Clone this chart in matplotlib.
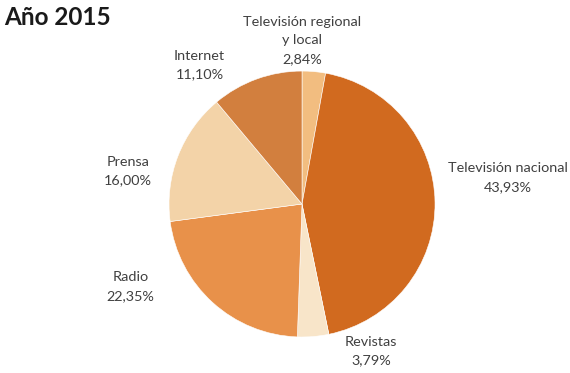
import matplotlib.pyplot as plt

# Data (start at 12 o'clock, clockwise)
categories = ['Televisión regional\ny local', 'Televisión nacional', 'Revistas',
              'Radio', 'Prensa', 'Internet']
shares = [2.84, 43.93, 3.79, 22.35, 16.00, 11.10]
colors = ['#F2BD80', '#D16A1F', '#F8E5C9', '#E8914A', '#F3D3A8', '#D27F3E']

# label centres in pie units (radius = 1)
label_pos = [(0.0, 1.23), (1.55, 0.20), (0.52, -1.105),
             (-1.29, -0.62), (-1.31, 0.25), (-0.77, 1.045)]

plt.rcParams['font.family'] = ['Lato', 'DejaVu Sans']

fig = plt.figure(figsize=(5.7, 3.73), dpi=100)
ax = fig.add_axes([0.2965, 0.0965, 0.4667, 0.713])

ax.pie(shares, colors=colors, startangle=90, counterclock=False,
       wedgeprops=dict(edgecolor='white', linewidth=0.4))
ax.set_xlim(-1, 1)
ax.set_ylim(-1, 1)
ax.set_aspect('auto')

for name, val, (x, y) in zip(categories, shares, label_pos):
    txt = f"{name}\n{val:.2f}".replace('.', ',') + '%'
    ax.text(x, y, txt, ha='center', va='center', fontsize=10.4,
            color='#404040', linespacing=1.65, clip_on=False)

fig.text(0.008, 0.952, 'Año 2015', fontsize=17.5, fontweight='bold',
         color='#1a1a1a', ha='left', va='center')

fig.savefig('out.png', dpi=100)
